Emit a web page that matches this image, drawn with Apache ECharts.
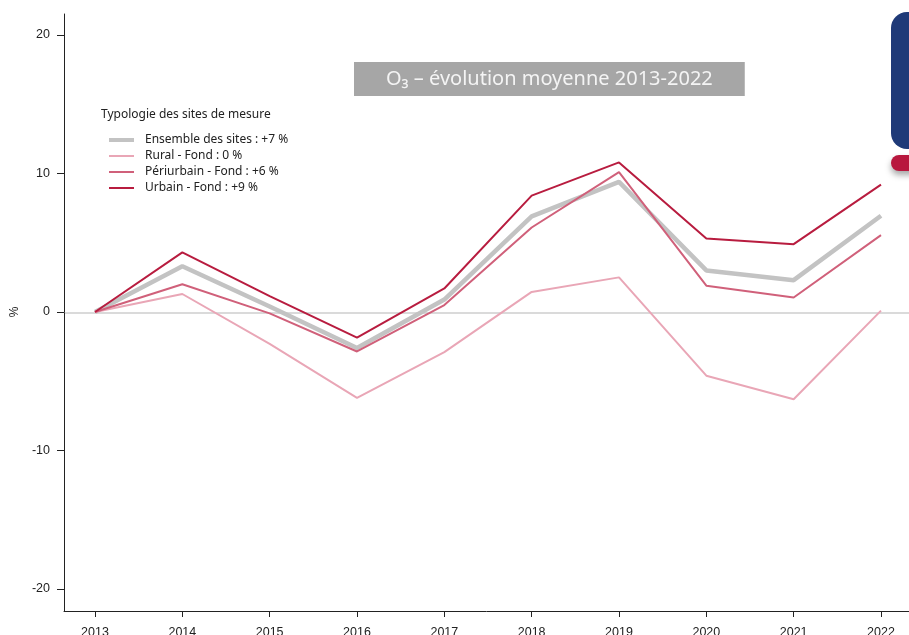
<!DOCTYPE html>
<html>
<head>
<meta charset="utf-8">
<script src="https://cdn.jsdelivr.net/npm/echarts@6/dist/echarts.min.js"></script>
<style>html,body{margin:0;padding:0;background:#fff}#c{width:909px;height:635px}</style>
</head>
<body>
<div id="c"></div>
<script>
const years = ['2013','2014','2015','2016','2017','2018','2019','2020','2021','2022'];
const ensemble = [0, 3.3, 0.4, -2.6, 0.9, 6.9, 9.4, 3.0, 2.3, 6.95];
const rural = [0, 1.3, -2.3, -6.2, -2.9, 1.45, 2.5, -4.6, -6.3, 0.1];
const periurbain = [0, 2.0, -0.1, -2.85, 0.5, 6.1, 10.1, 1.9, 1.05, 5.55];
const urbain = [0, 4.3, 1.15, -1.85, 1.7, 8.4, 10.8, 5.3, 4.9, 9.2];
const seriesNames = ['Ensemble des sites : +7 %', 'Rural - Fond : 0 %', 'Périurbain - Fond : +6 %', 'Urbain - Fond : +9 %'];
const titleText = 'O₃ – évolution moyenne 2013-2022';
const legendTitle = 'Typologie des sites de mesure';

const chart = echarts.init(document.getElementById('c'), null, {renderer: 'canvas'});
const axisFont = {fontFamily: 'Liberation Sans, Arial, sans-serif', fontSize: 12.5, color: '#222'};
const uiFont = 'Noto Sans, Open Sans, sans-serif';
const widths = [4.5, 2, 2, 2];
const colors = ['#c3c3c3', '#e9a6b6', '#d0607a', '#b81c3f'];

function line(i, data, z) {
  return {
    name: seriesNames[i], type: 'line', data: data, xAxisIndex: 1, yAxisIndex: 1,
    symbol: 'none', z: z, animation: false,
    lineStyle: {color: colors[i], width: widths[i]}, itemStyle: {color: colors[i]}
  };
}

chart.setOption({
  animation: false,
  title: [
    {
      text: titleText, left: 354, top: 62,
      backgroundColor: '#a6a6a6', padding: [5, 32, 5, 32],
      textStyle: {color: '#f4f4f4', fontSize: 20, lineHeight: 24, fontWeight: 'normal', fontFamily: uiFont}
    },
    {
      text: legendTitle, left: 101, top: 109, padding: 0,
      textStyle: {color: '#222', fontSize: 12, fontWeight: 'normal', fontFamily: uiFont}
    }
  ],
  legend: {
    orient: 'vertical', left: 107, top: 132, itemGap: 0, itemWidth: 25, itemHeight: 14,
    padding: 0, selectedMode: false,
    itemStyle: {opacity: 0},
    data: seriesNames.map((n, i) => ({name: n, lineStyle: {width: i === 0 ? 4 : 2}})),
    textStyle: {color: '#222', fontSize: 12, lineHeight: 16, fontFamily: uiFont, padding: [0, 0, 0, 6]}
  },
  grid: [
    {left: 64, right: 0, top: 14, bottom: 24, containLabel: false, outerBoundsMode: 'none'},
    {left: 95, right: 28, top: 35, bottom: 46, containLabel: false, outerBoundsMode: 'none'}
  ],
  xAxis: [
    {
      type: 'value', gridIndex: 0, min: 0, max: 1, position: 'bottom',
      axisLine: {show: true, onZero: false, lineStyle: {color: '#222', width: 1}},
      axisTick: {show: false}, axisLabel: {show: false}, splitLine: {show: false}
    },
    {
      type: 'category', gridIndex: 1, data: years, boundaryGap: false, offset: 22, position: 'bottom',
      axisLine: {show: false, onZero: false},
      axisTick: {show: true, length: 6, alignWithLabel: true, lineStyle: {color: '#222'}},
      axisLabel: Object.assign({margin: 15}, axisFont),
      splitLine: {show: false}
    }
  ],
  yAxis: [
    {
      type: 'value', gridIndex: 0, min: -1, max: 1, interval: 1,
      axisLine: {show: true, onZero: false, lineStyle: {color: '#222', width: 1}},
      axisTick: {show: false}, axisLabel: {show: false},
      splitLine: {show: true, lineStyle: {color: ['rgba(0,0,0,0)', '#dadada', 'rgba(0,0,0,0)'], width: 2}}
    },
    {
      type: 'value', gridIndex: 1, min: -20, max: 20, interval: 10, offset: 31,
      name: '%', nameLocation: 'middle', nameGap: 41, nameRotate: 90,
      nameTextStyle: {fontFamily: 'Liberation Sans, Arial, sans-serif', fontSize: 12, color: '#222'},
      axisLine: {show: false, onZero: false},
      axisTick: {show: true, length: 7, lineStyle: {color: '#222'}},
      axisLabel: Object.assign({margin: 14}, axisFont),
      splitLine: {show: false}
    }
  ],
  graphic: [
    {type: 'rect', shape: {x: 891, y: 12, width: 40, height: 137, r: 16}, style: {fill: '#1f3a78'}, z: 10},
    {type: 'rect', shape: {x: 891, y: 155, width: 40, height: 16, r: 8},
     style: {fill: '#b8173e', shadowBlur: 6, shadowOffsetY: 4, shadowColor: 'rgba(0,0,0,0.35)'}, z: 10}
  ],
  series: [
    line(0, ensemble, 3),
    line(1, rural, 4),
    line(2, periurbain, 5),
    line(3, urbain, 6)
  ]
});
</script>
</body>
</html>
